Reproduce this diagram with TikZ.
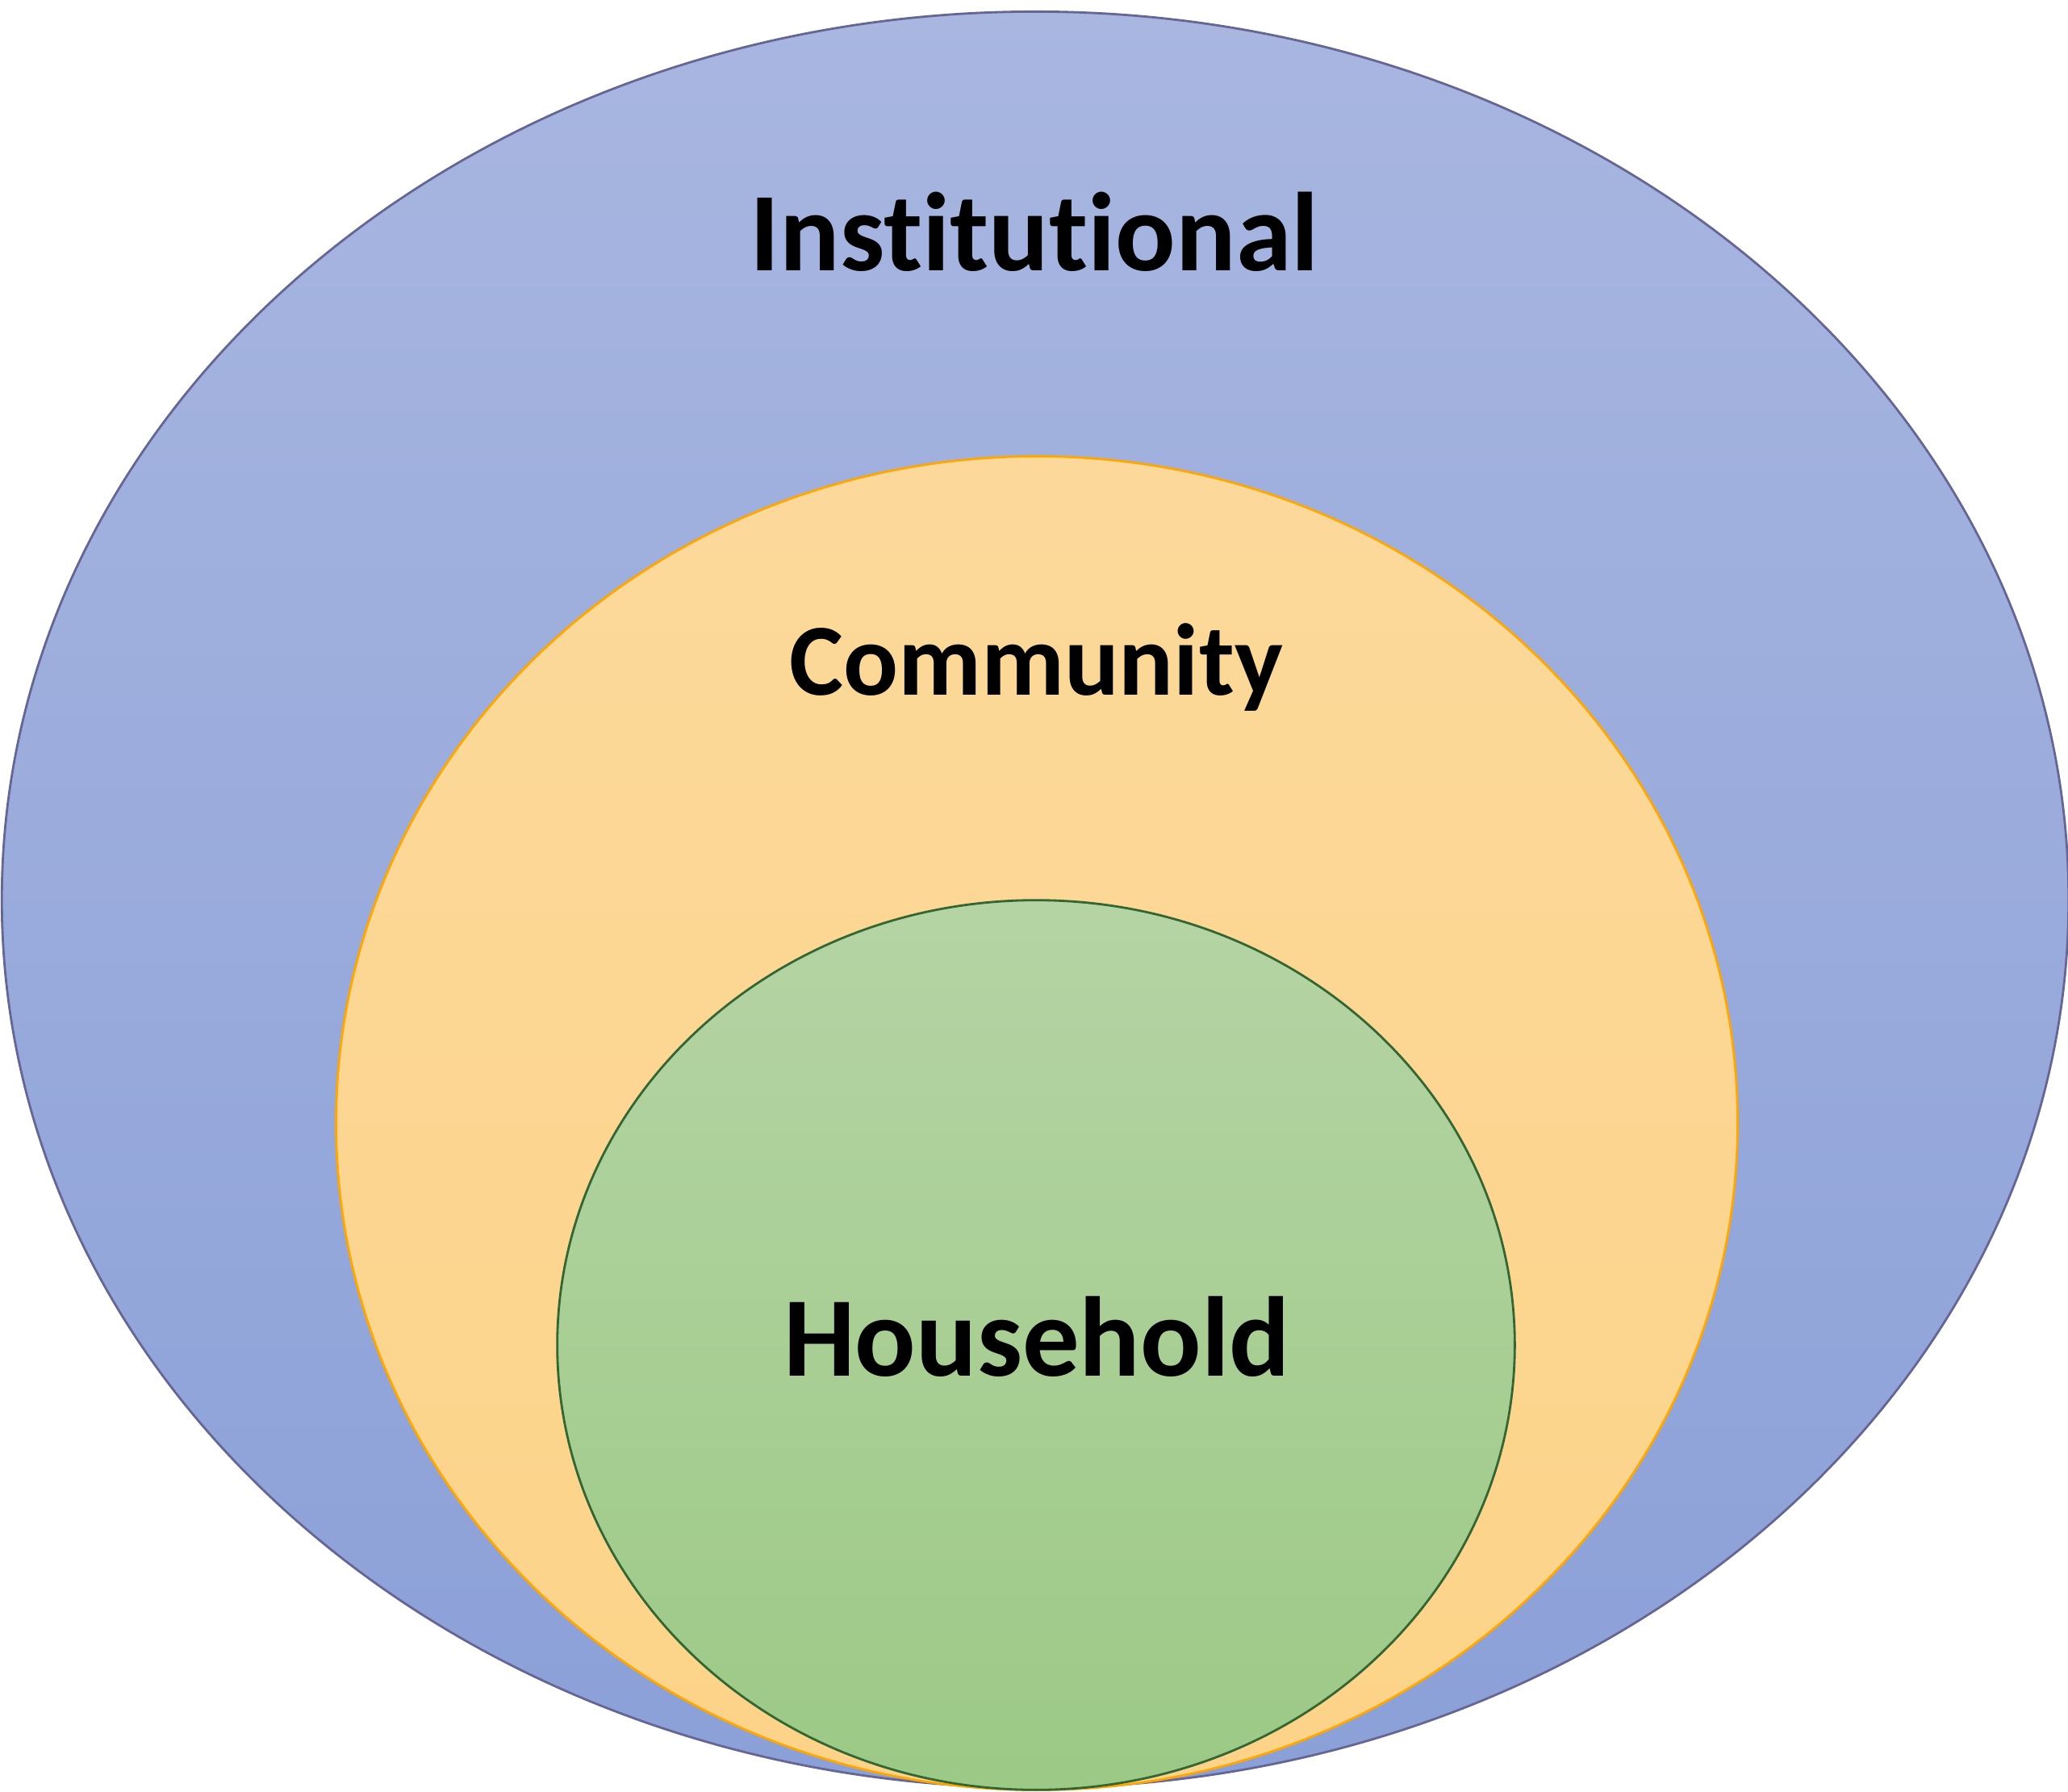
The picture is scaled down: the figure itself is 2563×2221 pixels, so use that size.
\documentclass[tikz,border=0pt]{standalone}
\usepackage{fontspec}
\setmainfont{Carlito}[RawFeature=-liga]
\usetikzlibrary{shapes.geometric}

\begin{document}
\begin{tikzpicture}[x=0.01cm, y=-0.01cm]

\definecolor{insttop}{RGB}{168,182,224}
\definecolor{instbot}{RGB}{139,160,216}
\definecolor{commtop}{RGB}{252,217,155}
\definecolor{commbot}{RGB}{252,211,136}
\definecolor{housetop}{RGB}{181,212,164}
\definecolor{housebot}{RGB}{156,201,134}

\tikzset{ring/.style={ellipse, inner sep=0pt, line width=0.8pt},
  lbl/.style={anchor=base, font=\bfseries}}

\useasboundingbox (0,0) rectangle (2563,2221);

\node[ring, draw=black!70!blue!60, top color=insttop, bottom color=instbot,
  minimum width=25.6cm, minimum height=22cm] (inst) at (1283,1115) {};
\node[ring, draw=orange!70!yellow, top color=commtop, bottom color=commbot,
  minimum width=17.36cm, minimum height=16.52cm] (comm) at (1285,1392) {};
\node[ring, draw=green!25!black!80, top color=housetop, bottom color=housebot,
  minimum width=11.86cm, minimum height=11.02cm] (house) at (1284,1667) {};

\node[lbl, font=\bfseries\fontsize{39.5}{41}\selectfont] (instlbl) at (1282,335) {Institutional};
\node[lbl, font=\bfseries\fontsize{36}{38}\selectfont] (commlbl) at (1284,861) {Community};
\node[lbl, font=\bfseries\fontsize{40}{42}\selectfont] (houselbl) at (1285,1705) {Household};

\end{tikzpicture}
\end{document}
